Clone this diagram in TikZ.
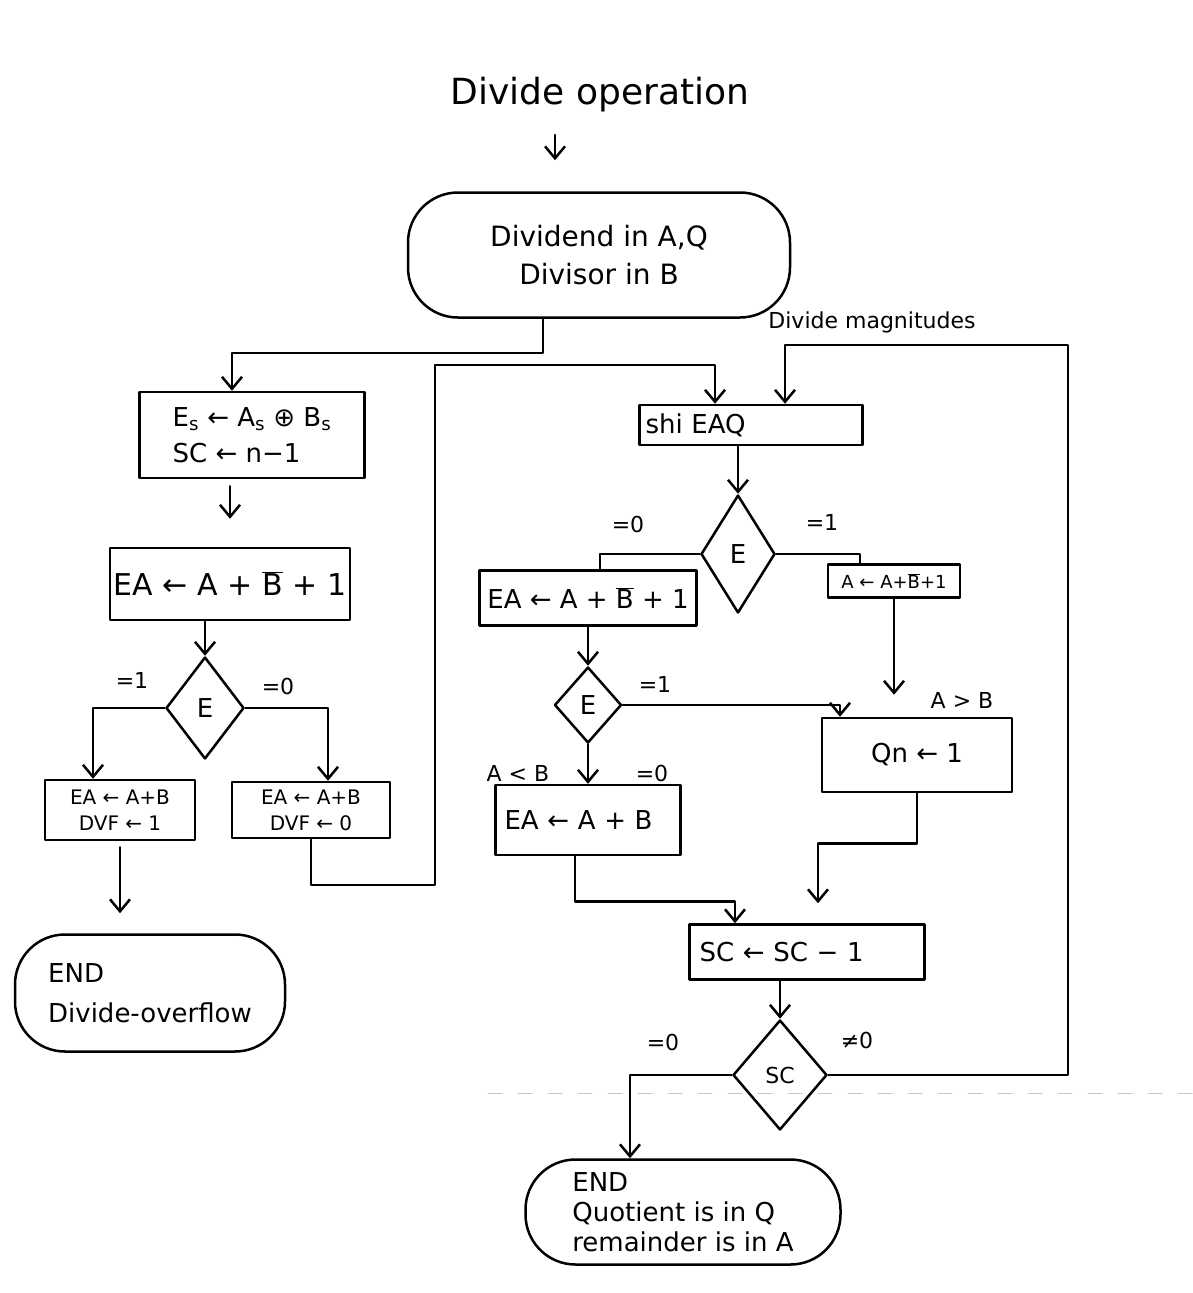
\documentclass[tikz,border=0pt]{standalone}
\usepackage{fontspec}
\setmainfont{DejaVu Sans}
\usetikzlibrary{arrows.meta,shapes.geometric,calc}
% complemented B
\newcommand{\nb}{$\overline{\hbox{B}}$}
\begin{document}
\begin{tikzpicture}[x=1pt,y=-1pt,
  line width=2.5pt, line cap=round, line join=round,
  arr/.style={-{Straight Barb[length=12pt,width=20pt,line width=2.5pt]}},
  box/.style={draw, rectangle, inner sep=4pt, align=center, font=\fontsize{26}{36}\selectfont},
  term/.style={draw, rounded corners=50pt, inner sep=6pt, font=\fontsize{28}{38}\selectfont},
  dec/.style={draw, diamond, inner sep=0pt, font=\fontsize{26}{30}\selectfont},
  lab/.style={font=\fontsize{22}{26}\selectfont, inner sep=1pt}
]
\useasboundingbox (0,0) rectangle (1192,1293);
\fill[white] (0,0) rectangle (1192,1293);

% title and start terminal
\node[font=\fontsize{36}{40}\selectfont] (title) at (600,95) {Divide operation};
\node[term, align=center, minimum width=382pt, minimum height=125pt] (start) at (599,255)
  {Dividend in A,Q\\Divisor in B};
\draw[arr, shorten <=18pt, shorten >=31pt] ([xshift=-45pt]title.south) -- ([xshift=-45pt]title.south |- start.north);

% left column: sign / overflow check
\node[box, align=left, minimum width=225pt, minimum height=86pt] (b1) at (252,435)
  {E\textsubscript{s} ← A\textsubscript{s} ⊕ B\textsubscript{s}\\SC ← n−1};
\node[box, minimum width=235pt, minimum height=72pt, font=\fontsize{30}{34}\selectfont] (b2) at (230,584)
  {EA ← A + \nb{} + 1};
\node[dec, minimum width=78pt, minimum height=102pt] (d1) at (205,708) {E};
\node[box, minimum width=150pt, minimum height=60pt, font=\fontsize{20}{26}\selectfont] (b3) at (120,810)
  {EA ← A+B\\DVF ← 1};
\node[box, minimum width=158pt, minimum height=56pt, font=\fontsize{20}{26}\selectfont] (b4) at (311,810)
  {EA ← A+B\\DVF ← 0};
\node[term, align=left, minimum width=270pt, minimum height=117pt, font=\fontsize{26}{40}\selectfont] (e1) at (150,993)
  {END\\Divide-overflow};

% right column: divide magnitudes
\node[font=\fontsize{22}{26}\selectfont] (mag) at (872,322) {Divide magnitudes};
\node[box, align=left, text width=211pt, minimum height=40pt, inner sep=6pt] (b5) at (751,425) {shi EAQ};
\node[dec, minimum width=74pt, minimum height=118pt] (d2) at (738,554) {E};
\node[box, minimum width=217pt, minimum height=55pt] (b6) at (588,598) {EA ← A + \nb{} + 1};
\node[box, minimum width=132pt, minimum height=33pt, inner sep=2pt, font=\fontsize{18}{22}\selectfont] (b7) at (894,581)
  {A ← A+\nb+1};
\node[dec, minimum width=67pt, minimum height=76pt] (d3) at (588,705) {E};
\node[box, minimum width=190pt, minimum height=74pt] (b8) at (917,755) {Qn ← 1};
\node[box, align=left, text width=167pt, minimum height=70pt, inner sep=9pt] (b9) at (588,820) {EA ← A + B};
\node[box, align=left, text width=215pt, minimum height=55pt, inner sep=10pt] (b10) at (807,952) {SC ← SC − 1};
\node[dec, minimum width=94pt, minimum height=110pt, font=\fontsize{22}{26}\selectfont] (d4) at (780,1075) {SC};
\node[term, align=left, minimum width=315pt, minimum height=105pt, font=\fontsize{26}{30}\selectfont] (e2) at (683,1212)
  {END\\Quotient is in Q\\remainder is in A};

% branch labels
\node[lab] at (132,680) {=1};
\node[lab] at (278,686) {=0};
\node[lab] at (628,524) {=0};
\node[lab] at (822,522) {=1};
\node[lab] at (655,684) {=1};
\node[lab] at (518,773) {A < B};
\node[lab] at (652,773) {=0};
\node[lab] at (962,700) {A > B};
\node[lab] at (663,1042) {=0};
\node[lab] at (857,1040) {≠0};

% loop corners
\coordinate (la) at (435,885);
\coordinate (lb) at (435,365);
\coordinate (rt) at (1068,345);

% connectors
\draw[arr] ([xshift=-56pt]start.south) -- ++(0,34) -| ([xshift=-20pt]b1.north);
\draw[arr, shorten <=7pt, shorten >=28pt] (b1.south -| b2.north) -- (b2.north);
\draw[arr] (b2.south -| d1.north) -- (d1.north);
\draw[arr] (d1.west) -| ([xshift=-27pt]b3.north);
\draw[arr] (d1.east) -| ([xshift=17pt]b4.north);
\draw[arr, shorten <=6pt, shorten >=20pt] (b3.south) -- (b3.south |- e1.north);
\draw[arr] (b4.south) |- (la) -- (lb) -| ([xshift=-36pt]b5.north);
\draw[arr] (d4.east) -| (rt) -| ([xshift=34pt]b5.north);
\draw[arr] (b5.south -| d2.north) -- (d2.north);
\draw (d2.west) -| ([xshift=12pt]b6.north);
\draw (d2.east) -| ([xshift=-34pt]b7.north);
\draw[arr] (b6.south -| d3.north) -- (d3.north);
\draw[arr] (d3.east) -| ([xshift=-77pt]b8.north);
\draw[arr, shorten >=22pt] (b7.south) -- (b7.south |- b8.north);
\draw[arr] (d3.south) -- (d3.south |- b9.north);
\draw[arr] ([xshift=-13pt]b9.south) -- ++(0,45) -| ([xshift=-72pt]b10.north);
\draw[arr, shorten >=20pt] (b8.south) -- ++(0,50) -| ([xshift=11pt]b10.north);
\draw[arr] (b10.south -| d4.north) -- (d4.north);
\draw[arr] (d4.west) -| ([xshift=-53pt]e2.north);

% faint fold line
\draw[gray!45, line width=1pt, dash pattern=on 14pt off 16pt] (488,1093) -- (1192,1093);
\end{tikzpicture}
\end{document}
